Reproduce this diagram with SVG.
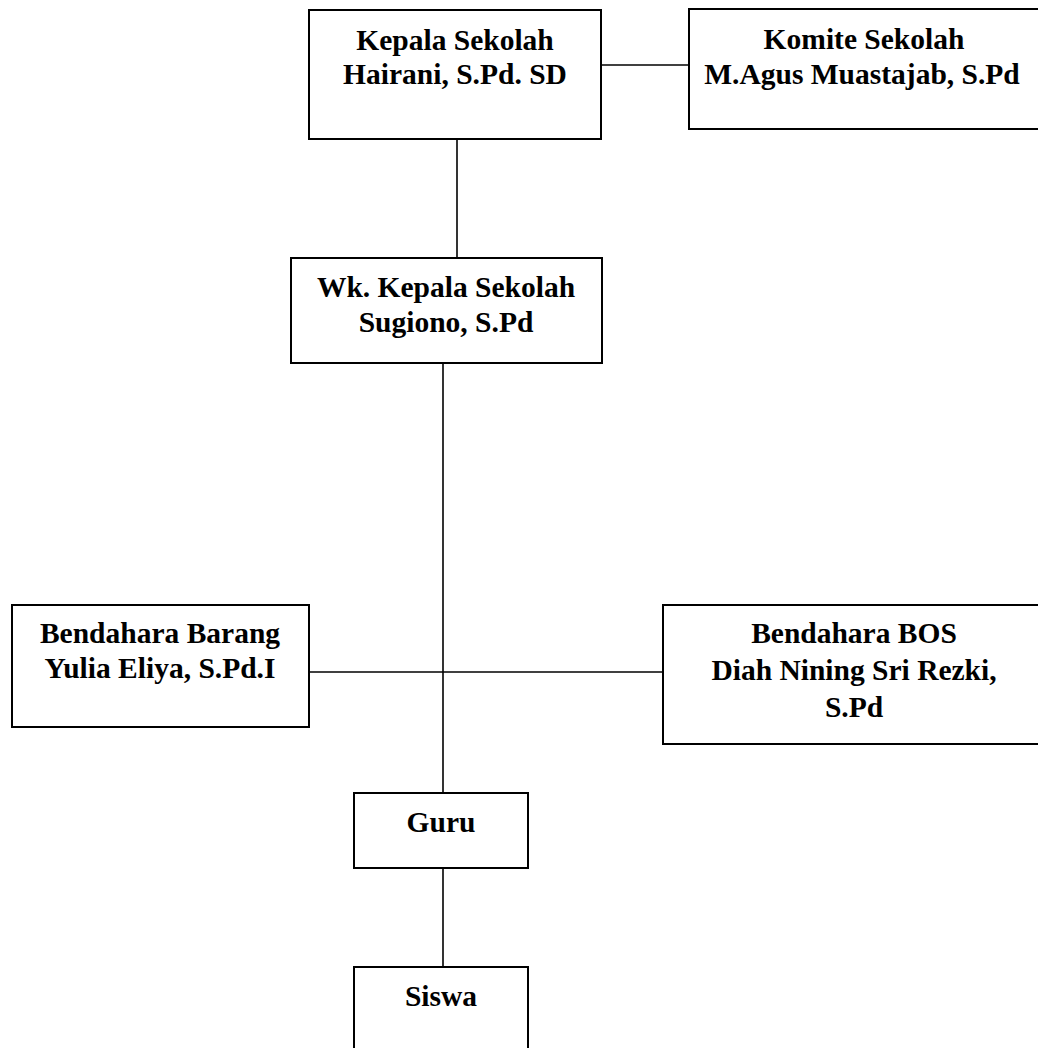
<svg xmlns="http://www.w3.org/2000/svg" width="1038" height="1048" viewBox="0 0 1038 1048">
<style>
.box{fill:#fff;stroke:#000;stroke-width:2}
.t{font-family:"Liberation Serif","Times New Roman",serif;font-weight:bold;font-size:29.5px;fill:#000;text-anchor:middle}
.c{stroke:#000;stroke-width:1.6;fill:none}
</style>
<rect width="1038" height="1048" fill="#fff"/>
<g id="connectors">
<line class="c" x1="457" y1="139" x2="457" y2="258"/>
<line class="c" x1="601" y1="65" x2="688" y2="65"/>
<line class="c" x1="443" y1="363" x2="443" y2="793"/>
<line class="c" x1="309" y1="672" x2="663" y2="672"/>
<line class="c" x1="443" y1="868" x2="443" y2="967"/>
</g>
<g id="kepala">
<rect class="box" x="309" y="10" width="292" height="129"/>
<text class="t" x="455" y="50">Kepala Sekolah</text>
<text class="t" x="455" y="84">Hairani, S.Pd. SD</text>
</g>
<g id="komite">
<rect class="box" x="689" y="9" width="360" height="120"/>
<text class="t" x="864" y="49">Komite Sekolah</text>
<text class="t" x="862" y="84">M.Agus Muastajab, S.Pd</text>
</g>
<g id="wakil">
<rect class="box" x="291" y="258" width="311" height="105"/>
<text class="t" x="446" y="297">Wk. Kepala Sekolah</text>
<text class="t" x="446" y="332">Sugiono, S.Pd</text>
</g>
<g id="bendahara-barang">
<rect class="box" x="12" y="605" width="297" height="122"/>
<text class="t" x="160" y="643">Bendahara Barang</text>
<text class="t" x="160" y="678">Yulia Eliya, S.Pd.I</text>
</g>
<g id="bendahara-bos">
<rect class="box" x="663" y="605" width="390" height="139"/>
<text class="t" x="854" y="643">Bendahara BOS</text>
<text class="t" x="854" y="680">Diah Nining Sri Rezki,</text>
<text class="t" x="854" y="717">S.Pd</text>
</g>
<g id="guru">
<rect class="box" x="354" y="793" width="174" height="75"/>
<text class="t" x="441" y="832">Guru</text>
</g>
<g id="siswa">
<rect class="box" x="354" y="967" width="174" height="100"/>
<text class="t" x="441" y="1006">Siswa</text>
</g>
</svg>
